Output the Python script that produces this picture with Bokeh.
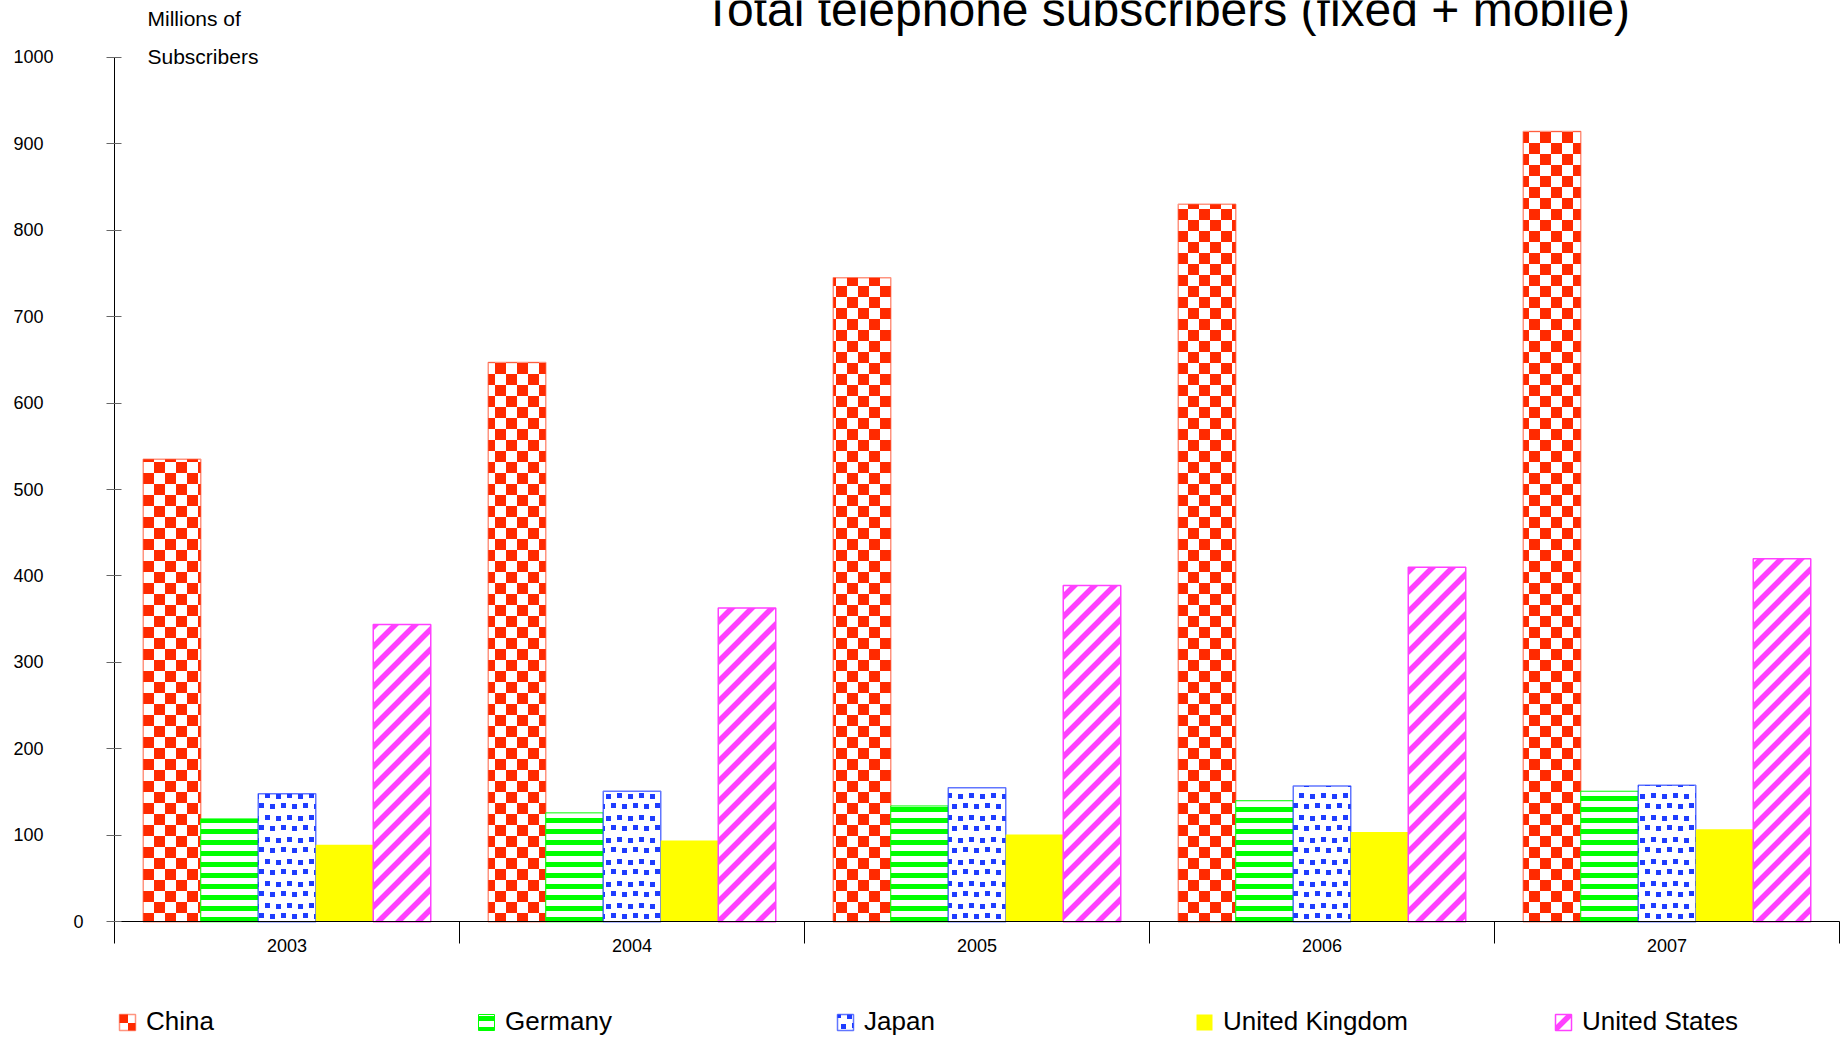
from bokeh.core.properties import value
from bokeh.embed import file_html
from bokeh.models import (CanvasTexture, ColumnDataSource, FixedTicker, Label,
                          Legend, LegendItem, LinearAxis, Range1d)
from bokeh.plotting import figure
from bokeh.resources import INLINE

# ---- data (millions of subscribers) ----
YEARS = ["2003", "2004", "2005", "2006", "2007"]
COUNTRIES = ["China", "Germany", "Japan", "United Kingdom", "United States"]
CHINA = [535, 647, 745, 830, 914]
GERMANY = [119, 126, 134, 140, 151]
JAPAN = [148, 151, 155, 157, 158]
UK = [89, 94, 101, 104, 107]
USA = [344, 363, 389, 410, 420]
Y_TICKS = [0, 100, 200, 300, 400, 500, 600, 700, 800, 900, 1000]

TITLE = "Total telephone subscribers (fixed + mobile)"
Y_TITLE = ["Millions of", "Subscribers"]

FONT = "Liberation Sans"
RED = "#FF2A00"
GREEN = "#00FF00"
BLUE = "#1E3CFF"
YELLOW = "#FFFF00"
MAGENTA = "#FF40FF"

W, H = 1842, 1037
# page geometry: where value 0 / first group edge sit, and pixel scales
X0_PX, GROUP_PX = 114.0, 345.0
Y0_PX, PX_PER_UNIT = 921.3, 0.8646

# fill textures drawn on a small canvas and tiled
checker_tex = CanvasTexture(code="""
ctx.canvas.width = 22; ctx.canvas.height = 22;
ctx.fillStyle = '#ffffff'; ctx.fillRect(0, 0, 22, 22);
ctx.fillStyle = '%s';
ctx.fillRect(0, 0, 11, 11);
ctx.fillRect(11, 11, 11, 11);
""" % RED)
dots_tex = CanvasTexture(code="""
ctx.canvas.width = 22; ctx.canvas.height = 22;
ctx.fillStyle = '#ffffff'; ctx.fillRect(0, 0, 22, 22);
ctx.fillStyle = '%s';
const pts = [[1, 1], [12, 2], [6, 12], [17, 11]];
for (const [x, y] of pts) ctx.fillRect(x, y, 5, 5);
""" % BLUE)
diag_tex = CanvasTexture(code="""
ctx.canvas.width = 20; ctx.canvas.height = 20;
ctx.fillStyle = '#ffffff'; ctx.fillRect(0, 0, 20, 20);
ctx.strokeStyle = '%s'; ctx.lineWidth = 5.5;
ctx.beginPath();
ctx.moveTo(-20, 20); ctx.lineTo(20, -20);
ctx.moveTo(0, 20); ctx.lineTo(20, 0);
ctx.moveTo(0, 40); ctx.lineTo(40, 0);
ctx.stroke();
""" % MAGENTA)

x_start = -X0_PX / GROUP_PX
y_start = -(H - Y0_PX) / PX_PER_UNIT
p = figure(width=W, height=H,
           x_range=Range1d(x_start, x_start + W / GROUP_PX),
           y_range=Range1d(y_start, y_start + H / PX_PER_UNIT),
           output_backend="svg", toolbar_location=None,
           x_axis_location=None, y_axis_location=None,
           min_border=0, min_border_left=0, min_border_right=0,
           min_border_top=0, min_border_bottom=0)
p.grid.visible = False
p.outline_line_color = None
p.background_fill_color = "white"
p.border_fill_color = "white"

# y axis: ticks on both sides; labels padded with figure spaces so that
# the numbers line up on their left edge
FSP = "\u2007"
width_digits = max(len(str(t)) for t in Y_TICKS)
y_over = {t: (str(t) + FSP * (width_digits - len(str(t)) + 3) if t else str(t))
          for t in Y_TICKS}
yaxis = LinearAxis(ticker=FixedTicker(ticks=Y_TICKS, minor_ticks=[]),
                   fixed_location=0, bounds=(0, 1000),
                   major_tick_in=7, major_tick_out=8,
                   major_tick_line_color="#666666",
                   axis_line_color="black",
                   major_label_overrides=y_over,
                   major_label_standoff=23,
                   major_label_text_font=FONT,
                   major_label_text_font_size="18px",
                   major_label_text_color="black")
p.add_layout(yaxis, "left")

# x axis: group separators as minor ticks, year labels at group centres
centres = [i + 0.5 for i in range(len(YEARS))]
xaxis = LinearAxis(ticker=FixedTicker(ticks=centres,
                                      minor_ticks=list(range(len(YEARS) + 1))),
                   fixed_location=0, bounds=(0, len(YEARS)),
                   major_tick_in=0, major_tick_out=0,
                   minor_tick_in=0, minor_tick_out=22,
                   minor_tick_line_color="black",
                   axis_line_color="black",
                   major_label_overrides={c: y for c, y in zip(centres, YEARS)},
                   major_label_standoff=-5,
                   major_label_text_font=FONT,
                   major_label_text_font_size="18px",
                   major_label_text_color="black")
p.add_layout(xaxis, "below")

series = [
    (CHINA, dict(fill_color="white", hatch_pattern=value("checker"),
                 hatch_extra={"checker": checker_tex}, hatch_scale=22,
                 line_color=RED, line_alpha=0.5, line_width=1.5)),
    (GERMANY, dict(fill_color="white", hatch_pattern="horizontal_line",
                   hatch_color=GREEN, hatch_scale=11, hatch_weight=5,
                   line_color=GREEN, line_width=1)),
    (JAPAN, dict(fill_color="white", hatch_pattern=value("dots"),
                 hatch_extra={"dots": dots_tex}, hatch_scale=22,
                 line_color=BLUE, line_alpha=0.7, line_width=1.5)),
    (UK, dict(fill_color=YELLOW, line_color=None)),
    (USA, dict(fill_color="white", hatch_pattern=value("diag"),
               hatch_extra={"diag": diag_tex}, hatch_scale=20,
               line_color=MAGENTA, line_width=1.5)),
]

n = len(COUNTRIES)
bar_w = 1.0 / (n + 1)
items = []
for k, (name, (vals, style)) in enumerate(zip(COUNTRIES, series)):
    xs = [c + (k - (n - 1) / 2) * bar_w for c in centres]
    src = ColumnDataSource(dict(x=xs, top=vals))
    r = p.vbar(x="x", top="top", bottom=0, width=bar_w, source=src, **style)
    items.append(LegendItem(label=name, renderers=[r]))

legend = Legend(items=items, orientation="horizontal", location=(117, 0),
                glyph_width=20, glyph_height=20, label_standoff=9,
                label_width=330, spacing=0, padding=0, margin=0,
                border_line_color=None, background_fill_alpha=0,
                label_text_font=FONT, label_text_font_size="26px",
                label_text_color="black")
p.add_layout(legend, "center")

# axis title, two lines, top left
for text, ypx in zip(Y_TITLE, [17.6, 56.4]):
    p.add_layout(Label(x=147, y=H - ypx, x_units="screen", y_units="screen",
                       text=text, text_align="left", text_baseline="middle",
                       text_font=FONT, text_font_size="21px", text_color="black"))

# chart title, partly running off the top edge
p.add_layout(Label(x=1166, y=H - 9, x_units="screen", y_units="screen",
                   text=TITLE, text_align="center", text_baseline="middle",
                   text_font=FONT, text_font_size="48px", text_color="black"))

open("out.html", "w").write(file_html(p, INLINE))
